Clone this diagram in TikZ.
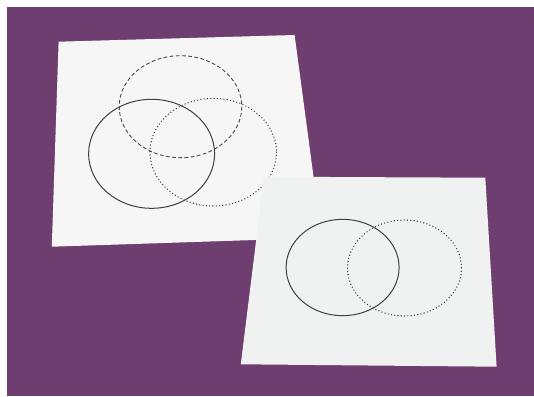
\documentclass[tikz,border=0pt]{standalone}
\begin{document}
\begin{tikzpicture}[x=1pt,y=-1pt,
  solidc/.style={draw=black!75,line width=1pt},
  dashc/.style={draw=black!72,line width=0.9pt,dash pattern=on 3.8pt off 2.4pt},
  dotc/.style={draw=black!80,line width=1.4pt,line cap=round,dash pattern=on 0pt off 3.3pt},
  paper/.style={fill=#1,draw=none}]
\definecolor{bgpurple}{RGB}{110,62,112}
\definecolor{paperA}{RGB}{246,246,247}
\definecolor{paperB}{RGB}{240,241,241}
\useasboundingbox (0,0) rectangle (534,396);
\fill[white] (0,0) rectangle (534,396);
\fill[bgpurple] (7,7) rectangle (534,396);
% first sheet
\fill[paper=paperA] (58.6,41.7) -- (294.6,35) -- (321.7,237.8) -- (51.8,246.7) -- cycle;
\draw[solidc] (151.6,153.8) ellipse [x radius=63,y radius=54.5];
\draw[dashc] (180.5,106.7) ellipse [x radius=61.3,y radius=51];
\draw[dotc] (213.2,152.2) ellipse [x radius=63.3,y radius=53.8];
% second sheet
\fill[paper=paperB] (264,176.7) -- (485.3,177.7) -- (496.6,366.7) -- (240.8,364.3) -- cycle;
\draw[solidc] (342.6,267.5) ellipse [x radius=56.5,y radius=48.2];
\draw[dotc] (404.5,268) ellipse [x radius=57,y radius=48];
\end{tikzpicture}
\end{document}
